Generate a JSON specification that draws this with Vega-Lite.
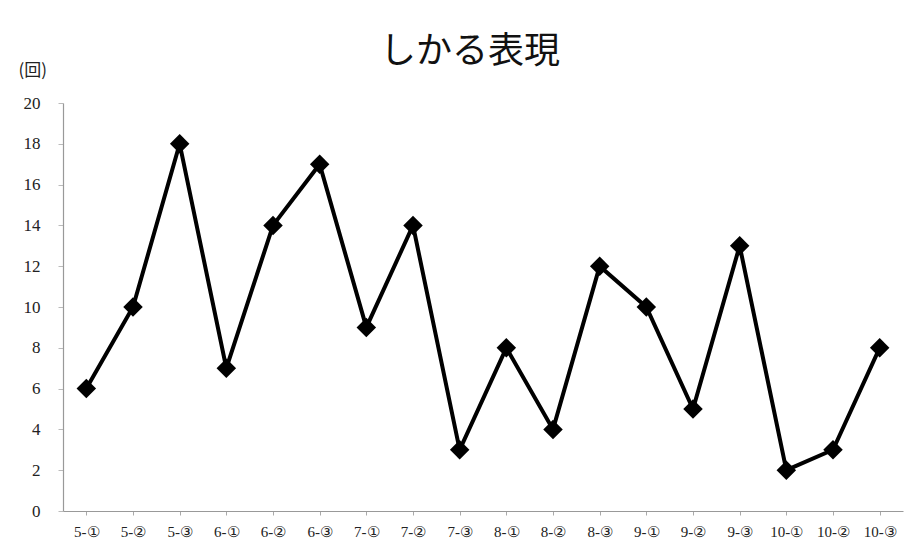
{
  "$schema": "https://vega.github.io/schema/vega-lite/v6.json",
  "width": 840,
  "height": 408,
  "autosize": "none",
  "padding": {"left": 63, "top": 103, "right": 12, "bottom": 41},
  "background": "white",
  "title": {
    "text": "しかる表現",
    "font": "Noto Sans CJK JP",
    "fontSize": 36,
    "fontWeight": "normal",
    "color": "#111111",
    "anchor": "middle",
    "dx": -13,
    "offset": -10
  },
  "data": {
    "values": [
      {"lesson": "5-①", "count": 6},
      {"lesson": "5-②", "count": 10},
      {"lesson": "5-③", "count": 18},
      {"lesson": "6-①", "count": 7},
      {"lesson": "6-②", "count": 14},
      {"lesson": "6-③", "count": 17},
      {"lesson": "7-①", "count": 9},
      {"lesson": "7-②", "count": 14},
      {"lesson": "7-③", "count": 3},
      {"lesson": "8-①", "count": 8},
      {"lesson": "8-②", "count": 4},
      {"lesson": "8-③", "count": 12},
      {"lesson": "9-①", "count": 10},
      {"lesson": "9-②", "count": 5},
      {"lesson": "9-③", "count": 13},
      {"lesson": "10-①", "count": 2},
      {"lesson": "10-②", "count": 3},
      {"lesson": "10-③", "count": 8}
    ]
  },
  "encoding": {
    "x": {
      "field": "lesson",
      "type": "ordinal",
      "sort": null,
      "scale": {"paddingInner": 0, "paddingOuter": 0},
      "axis": {
        "title": null,
        "labelAngle": 0,
        "labelFont": "Liberation Serif",
        "labelFontSize": 15,
        "labelColor": "#222222",
        "labelPadding": 9,
        "domainColor": "#999999",
        "domainWidth": 1.2,
        "tickColor": "#aaaaaa",
        "tickSize": 4,
        "bandPosition": 0,
        "grid": false
      }
    },
    "y": {
      "field": "count",
      "type": "quantitative",
      "scale": {"domain": [0, 20]},
      "axis": {
        "values": [0, 2, 4, 6, 8, 10, 12, 14, 16, 18, 20],
        "title": "(回)",
        "titleAngle": 0,
        "titleFont": "Noto Sans CJK JP",
        "titleFontSize": 17,
        "titleFontWeight": "normal",
        "titleColor": "#222222",
        "titleAlign": "left",
        "titleBaseline": "middle",
        "titleX": -45,
        "titleY": -33,
        "labelFont": "Liberation Serif",
        "labelFontSize": 17,
        "labelColor": "#222222",
        "labelPadding": 18,
        "domainColor": "#999999",
        "domainWidth": 1.2,
        "tickColor": "#bbbbbb",
        "tickSize": 5,
        "grid": false
      }
    }
  },
  "layer": [
    {
      "mark": {"type": "line", "color": "#000000", "strokeWidth": 4}
    },
    {
      "mark": {"type": "point", "shape": "diamond", "filled": true, "color": "#000000", "size": 380, "opacity": 1}
    }
  ],
  "config": {
    "view": {"stroke": null}
  }
}
